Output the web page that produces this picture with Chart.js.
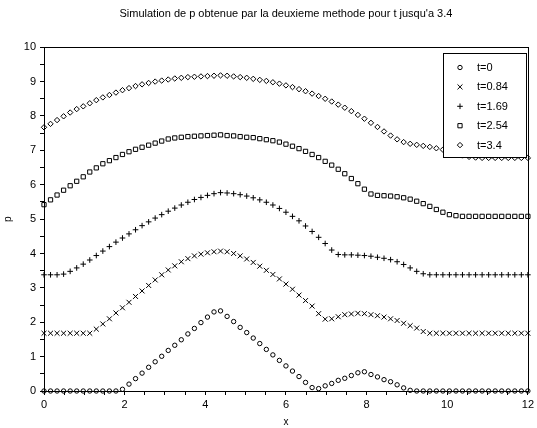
<!DOCTYPE html>
<html><head><meta charset="utf-8">
<script src="https://cdn.jsdelivr.net/npm/chart.js@4/dist/chart.umd.min.js"></script>
<style>html,body{margin:0;padding:0;background:#fff}#wrap{width:537px;height:428px}</style>
</head><body><div id="wrap"><canvas id="c" width="537" height="428"></canvas></div>
<script>
const xValues=[0,0.162,0.324,0.486,0.649,0.811,0.973,1.135,1.297,1.459,1.622,1.784,1.946,2.108,2.270,2.432,2.595,2.757,2.919,3.081,3.243,3.405,3.568,3.730,3.892,4.054,4.216,4.378,4.541,4.703,4.865,5.027,5.189,5.351,5.514,5.676,5.838,6.000,6.162,6.324,6.486,6.649,6.811,6.973,7.135,7.297,7.459,7.622,7.784,7.946,8.108,8.270,8.432,8.595,8.757,8.919,9.081,9.243,9.405,9.568,9.730,9.892,10.054,10.216,10.378,10.541,10.703,10.865,11.027,11.189,11.351,11.514,11.676,11.838,12.000];
const pT0=[0,0,0,0,0,0,0,0,0,0,0,0,0.05,0.2,0.36,0.52,0.69,0.85,1.01,1.18,1.33,1.49,1.66,1.82,1.99,2.15,2.3,2.33,2.17,2.02,1.85,1.7,1.54,1.38,1.21,1.05,0.89,0.73,0.58,0.42,0.25,0.1,0.07,0.15,0.22,0.31,0.37,0.45,0.53,0.56,0.48,0.41,0.33,0.27,0.18,0.09,0.02,0,0,0,0,0,0,0,0,0,0,0,0,0,0,0,0,0,0];
const pT084=[1.68,1.68,1.68,1.68,1.68,1.68,1.68,1.68,1.8,1.95,2.1,2.27,2.42,2.58,2.75,2.91,3.07,3.23,3.38,3.52,3.64,3.76,3.85,3.93,3.98,4.02,4.05,4.07,4.05,4.0,3.93,3.84,3.74,3.63,3.51,3.39,3.26,3.11,2.96,2.79,2.63,2.47,2.25,2.09,2.1,2.16,2.22,2.24,2.26,2.25,2.22,2.19,2.15,2.1,2.05,1.97,1.9,1.83,1.73,1.68,1.68,1.68,1.68,1.68,1.68,1.68,1.68,1.68,1.68,1.68,1.68,1.68,1.68,1.68,1.68];
const pT169=[3.38,3.38,3.38,3.40,3.48,3.58,3.69,3.81,3.94,4.07,4.2,4.33,4.45,4.57,4.69,4.81,4.92,5.03,5.13,5.23,5.32,5.41,5.49,5.57,5.63,5.69,5.74,5.77,5.76,5.74,5.71,5.67,5.62,5.56,5.49,5.41,5.31,5.2,5.08,4.95,4.8,4.64,4.47,4.29,4.1,3.97,3.96,3.96,3.95,3.94,3.92,3.89,3.86,3.82,3.76,3.68,3.58,3.48,3.41,3.38,3.38,3.38,3.38,3.38,3.38,3.38,3.38,3.38,3.38,3.38,3.38,3.38,3.38,3.38,3.38];
const pT254=[5.42,5.56,5.7,5.84,5.97,6.1,6.23,6.37,6.49,6.61,6.7,6.79,6.88,6.96,7.03,7.09,7.15,7.21,7.27,7.33,7.36,7.38,7.4,7.41,7.42,7.43,7.44,7.45,7.43,7.42,7.40,7.38,7.37,7.34,7.31,7.28,7.24,7.18,7.12,7.05,6.97,6.88,6.79,6.68,6.57,6.45,6.32,6.18,6.03,5.87,5.73,5.69,5.68,5.67,5.65,5.62,5.58,5.52,5.45,5.37,5.28,5.2,5.13,5.1,5.08,5.08,5.08,5.08,5.08,5.08,5.08,5.08,5.08,5.08,5.08];
const pT34=[7.67,7.77,7.88,7.99,8.1,8.2,8.28,8.37,8.46,8.54,8.61,8.68,8.75,8.81,8.87,8.92,8.96,9.0,9.03,9.06,9.09,9.11,9.13,9.14,9.15,9.16,9.17,9.18,9.17,9.15,9.13,9.11,9.08,9.05,9.02,8.98,8.94,8.89,8.84,8.78,8.72,8.65,8.58,8.5,8.42,8.33,8.24,8.14,8.03,7.92,7.8,7.68,7.55,7.43,7.32,7.24,7.19,7.16,7.13,7.1,7.06,7.02,6.97,6.91,6.85,6.81,6.79,6.78,6.78,6.78,6.78,6.78,6.78,6.78,6.78];
const seriesNames=['t=0','t=0.84','t=1.69','t=2.54','t=3.4'];
const seriesValues=[pT0,pT084,pT169,pT254,pT34];
const xTickLabels=['0','2','4','6','8','10','12'];
const yTickLabels=['0','1','2','3','4','5','6','7','8','9','10'];

const markerStyles=['circle','crossRot','cross','rect','rectRot'];
const markerRadii=[2.2,3.5,2.8,3.0,2.7];
const FONT='"Liberation Sans", Arial, Helvetica, sans-serif';

const datasets=seriesValues.map((vals,k)=>({
  label:seriesNames[k],
  data:vals.map((v,i)=>({x:xValues[i],y:v})),
  showLine:false,
  pointStyle:markerStyles[k],
  pointRadius:markerRadii[k],
  pointHoverRadius:markerRadii[k],
  pointBorderWidth:1,
  pointBorderColor:'#000',
  pointBackgroundColor:'rgba(0,0,0,0)',
  borderColor:'#000',
  backgroundColor:'rgba(0,0,0,0)',
  clip:false
}));

function drawMarker(ctx,style,x,y,r){
  ctx.beginPath();
  const d=r*Math.SQRT1_2;
  switch(style){
    case 'circle': ctx.arc(x,y,r,0,Math.PI*2); break;
    case 'crossRot': ctx.moveTo(x-d,y-d);ctx.lineTo(x+d,y+d);ctx.moveTo(x-d,y+d);ctx.lineTo(x+d,y-d); break;
    case 'cross': ctx.moveTo(x,y-r);ctx.lineTo(x,y+r);ctx.moveTo(x-r,y);ctx.lineTo(x+r,y); break;
    case 'rect': ctx.rect(x-d,y-d,2*d,2*d); break;
    case 'rectRot': ctx.moveTo(x-r,y);ctx.lineTo(x,y-r);ctx.lineTo(x+r,y);ctx.lineTo(x,y+r);ctx.closePath(); break;
  }
  ctx.stroke();
}

const framePlugin={
  id:'frameAndLegend',
  afterDraw(chart){
    const ctx=chart.ctx, a=chart.chartArea;
    ctx.save();
    ctx.strokeStyle='#000'; ctx.lineWidth=1;
    const l=Math.round(a.left)+0.5, r=Math.round(a.right)+0.5, t=Math.round(a.top)+0.5, b=Math.round(a.bottom)+0.5;
    ctx.strokeRect(l,t,r-l,b-t);
    // legend box
    const bx=443.5, by=53.5, bw=83, bh=104;
    ctx.fillStyle='#fff'; ctx.fillRect(bx,by,bw,bh);
    ctx.strokeRect(bx,by,bw,bh);
    ctx.fillStyle='#000'; ctx.font='11px '+FONT; ctx.textBaseline='middle'; ctx.textAlign='left';
    for(let k=0;k<seriesNames.length;k++){
      const y=67.5+k*19.4;
      drawMarker(ctx,markerStyles[k],460,y,markerRadii[k]);
      ctx.fillText(seriesNames[k],477,y+0.5);
    }
    ctx.restore();
  }
};

new Chart(document.getElementById('c'),{
  type:'scatter',
  data:{datasets},
  plugins:[framePlugin],
  options:{
    responsive:false, animation:false, devicePixelRatio:1,
    layout:{padding:{left:0,right:8,top:0,bottom:0}},
    plugins:{
      legend:{display:false}, tooltip:{enabled:false},
      title:{display:true, fullSize:false, text:'Simulation de p obtenue par la deuxieme methode pour t jusqu\'a 3.4',
        color:'#000', font:{family:FONT,size:11,weight:'normal'}, padding:{top:7,bottom:27}}
    },
    scales:{
      x:{type:'linear',min:0,max:12,
        afterFit(s){s.height=37;},
        border:{display:false},
        grid:{drawOnChartArea:false,drawTicks:true,tickLength:4,tickColor:'#000'},
        ticks:{stepSize:0.5,autoSkip:false,maxRotation:0,color:'#000',padding:3,
          font:{family:FONT,size:11},
          callback:(v)=>{const s=String(v);return xTickLabels.includes(s)?s:'';}},
        title:{display:true,text:'x',color:'#000',font:{family:FONT,size:10},padding:{top:0,bottom:0}}
      },
      y:{type:'linear',min:0,max:10,
        afterFit(s){s.width=44;},
        border:{display:false},
        grid:{drawOnChartArea:false,drawTicks:true,tickLength:4,tickColor:'#000'},
        ticks:{stepSize:0.5,autoSkip:false,color:'#000',padding:4,
          font:{family:FONT,size:11},
          callback:(v)=>{const s=String(v);return yTickLabels.includes(s)?s:'';}},
        title:{display:true,text:'p',color:'#000',font:{family:FONT,size:10},padding:{top:2,bottom:0}}
      }
    }
  }
});
</script></body></html>
